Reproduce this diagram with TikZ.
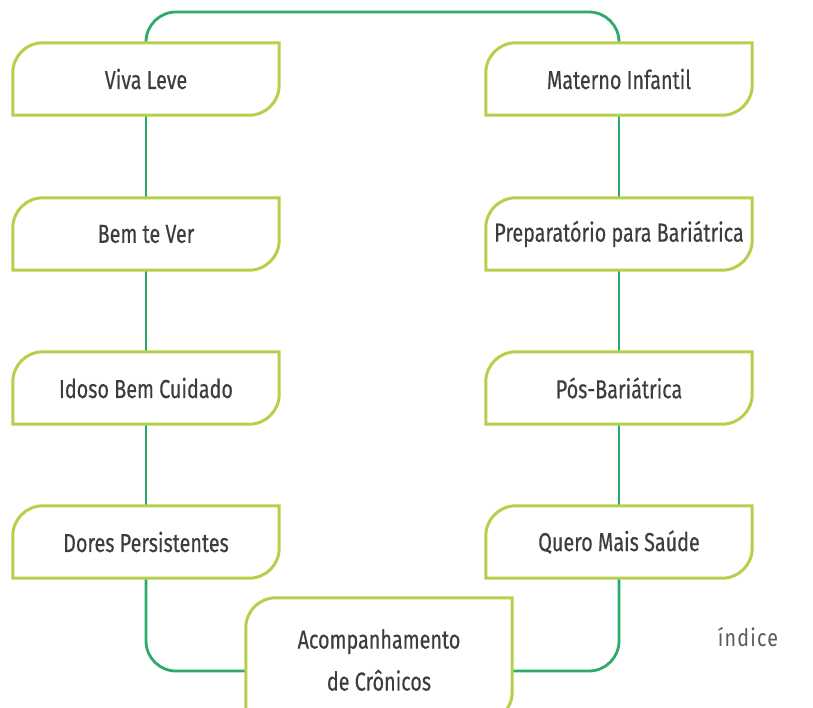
\documentclass[tikz,border=0pt]{standalone}
\usepackage{fontspec}
\setmainfont{Fira Sans}[FakeStretch=0.76,FakeBold=0.4]
\newfontfamily\idxfont{Fira Sans}[FakeStretch=0.82,LetterSpace=5]
\definecolor{lime}{HTML}{B5D04B}
\definecolor{linegreen}{HTML}{2BAA6B}
\definecolor{txt}{HTML}{3D3D3D}
\definecolor{idxgray}{HTML}{5A5A5A}
\begin{document}
\begin{tikzpicture}[x=1pt,y=-1pt,
    prog/.style={minimum width=266pt,minimum height=72pt,inner sep=0pt,
      align=center,text=txt,font=\fontsize{26}{42}\selectfont},
    link/.style={linegreen,line width=2.8pt,rounded corners=30pt},
    frame/.style={lime,line width=3pt}]
    \useasboundingbox (0,0) rectangle (813,708);
    \node [prog] (viva) at (146,79) {Viva Leve};
    \node [prog] (bem) at (146,234) {Bem te Ver};
    \node [prog] (idoso) at (146,388) {Idoso Bem Cuidado};
    \node [prog] (dores) at (146,542) {Dores Persistentes};
    \node [prog] (materno) at (619,79) {Materno Infantil};
    \node [prog] (prep) at (619,234) {Preparatório para Bariátrica};
    \node [prog] (pos) at (619,388) {Pós-Bariátrica};
    \node [prog] (quero) at (619,542) {Quero Mais Saúde};
    \node [prog,minimum height=124pt] (acomp) at (379,660)
      {Acompanhamento\\de Crônicos};
    \node [text=idxgray,font=\idxfont\fontsize{24}{26}\selectfont] (idx) at (748,637) {índice};
    \coordinate (top) at (0,12);
    \coordinate (bot) at (0,671);
    \draw [link] (viva.north) -- (viva.north |- top) -- (materno.north |- top) -- (materno.north);
    \draw [link] (dores.south) -- (dores.south |- bot) -- (acomp.west |- bot);
    \draw [link] (quero.south) -- (quero.south |- bot) -- (acomp.east |- bot);
    \foreach \a/\b in {viva/bem,bem/idoso,idoso/dores,materno/prep,prep/pos,pos/quero}
      \draw [link] (\a.south) -- (\b.north);
    \foreach \n in {viva,bem,idoso,dores,materno,prep,pos,quero,acomp}
      \draw [frame] (\n.south west) [rounded corners=30pt] -- (\n.north west)
        [sharp corners] -- (\n.north east) [rounded corners=30pt] -- (\n.south east)
        [sharp corners] -- cycle;
\end{tikzpicture}
\end{document}
